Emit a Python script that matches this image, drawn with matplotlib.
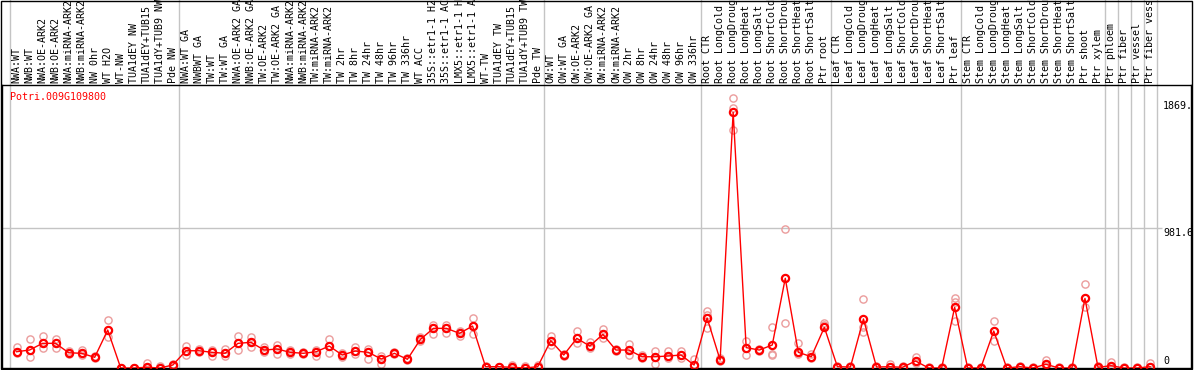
import numpy as np
from matplotlib import pyplot as plt
from matplotlib.patches import Rectangle

gene = "Potri.009G109800"

labels = ["NWA:WT", "NWB:WT", "NWA:OE-ARK2", "NWB:OE-ARK2", "NWA:miRNA-ARK2", "NWB:miRNA-ARK2",
	"NW 0hr", "WT H2O", "WT-NW", "TUA1dEY NW", "TUA1dEY+TUB15", "TUA1dY+TUB9 NW", "Pde NW",
	"NWA:WT GA", "NWBWT GA", "TW:WT", "TW:WT GA", "NWA:OE-ARK2 GA", "NWB:OE-ARK2 GA", "TW:OE-ARK2",
	"TW:OE-ARK2 GA", "NWA:miRNA-ARK2", "NWB:miRNA-ARK2", "TW:miRNA-ARK2", "TW:miRNA-ARK2",
	"TW 2hr", "TW 8hr", "TW 24hr", "TW 48hr", "TW 96hr", "TW 336hr", "WT ACC",
	"35S::etr1-1 H2", "35S::etr1-1 AC", "LMX5::etr1-1 H", "LMX5::etr1-1 A", "WT-TW",
	"TUA1dEY TW", "TUA1dEY+TUB15", "TUA1dY+TUB9 TW", "Pde TW",
	"OW:WT", "OW:WT GA", "OW:OE-ARK2", "OW:OE-ARK2 GA", "OW:miRNA-ARK2", "OW:miRNA-ARK2",
	"OW 2hr", "OW 8hr", "OW 24hr", "OW 48hr", "OW 96hr", "OW 336hr",
	"Root CTR", "Root LongCold", "Root LongDroug", "Root LongHeat", "Root LongSalt",
	"Root ShortCold", "Root ShortDrou", "Root ShortHeat", "Root ShortSalt", "Ptr root",
	"Leaf CTR", "Leaf LongCold", "Leaf LongDroug", "Leaf LongHeat", "Leaf LongSalt",
	"Leaf ShortCold", "Leaf ShortDrou", "Leaf ShortHeat", "Leaf ShortSalt", "Ptr leaf",
	"Stem CTR", "Stem LongCold", "Stem LongDroug", "Stem LongHeat", "Stem LongSalt",
	"Stem ShortCold", "Stem ShortDrou", "Stem ShortHeat", "Stem ShortSalt", "Ptr shoot", "Ptr xylem",
	"Ptr phloem", "Ptr fiber", "Ptr vessel", "Ptr fiber vess"]

# group boundaries (index of first sample of each new group)
group_starts = [0, 13, 41, 53, 63, 73, 84, 85, 86, 87, 88]

means = [114, 126, 173, 173, 107, 103, 75, 266, 0, 0, 5, 0, 21,
	121, 121, 110, 103, 173, 180, 126, 133, 110, 103, 114, 154, 91, 119, 110, 63, 103, 61,
	201, 278, 278, 243, 294, 9, 9, 5, 0, 9,
	192, 91, 208, 154, 236, 126, 126, 79, 79, 84, 91, 21,
	351, 56, 1793, 143, 126, 161, 629, 110, 79, 285,
	9, 7, 344, 7, 9, 5, 49, 0, 0, 425,
	0, 0, 259, 0, 9, 0, 26, 0, 0, 488, 5,
	16, 0, 0, 9]

rep_hi = [147, 203, 224, 203, 120, 126, 84, 337, 0, 0, 35, 14, 27,
	154, 133, 126, 133, 224, 217, 147, 161, 126, 112, 126, 201, 105, 149, 133, 84, 110, 68,
	215, 301, 301, 257, 353, 14, 9, 21, 14, 21,
	224, 98, 259, 180, 271, 133, 166, 91, 121, 121, 119, 61,
	402, 70, 1891, 189, 133, 285, 972, 173, 96, 318,
	14, 12, 484, 12, 26, 12, 79, 5, 5, 488,
	5, 5, 330, 5, 14, 5, 56, 5, 5, 587, 12,
	40, 5, 5, 37]

rep_mid = [114, 126, 173, 173, 107, 103, 75, 266, 0, 0, 5, 0, 21,
	121, 121, 110, 103, 173, 180, 126, 133, 110, 103, 114, 154, 91, 119, 110, 63, 103, 61,
	201, 278, 278, 243, 294, 9, 9, 5, 0, 9,
	192, 91, 208, 154, 236, 126, 126, 79, 79, 84, 91, 21,
	375, 56, 1821, 143, 126, 91, 629, 110, 79, 300,
	9, 7, 254, 7, 9, 5, 49, 0, 0, 465,
	0, 0, 259, 0, 9, 0, 26, 0, 0, 488, 5,
	16, 0, 0, 9]

rep_lo = [105, 77, 140, 140, 95, 92, 68, 215, 0, 0, 0, 0, 14,
	91, 110, 84, 84, 126, 147, 110, 98, 98, 96, 84, 107, 80, 98, 63, 28, 96, 56,
	190, 238, 243, 224, 238, 5, 5, 0, 0, 5,
	161, 84, 173, 140, 208, 119, 91, 70, 26, 70, 70, 14,
	278, 49, 1669, 91, 119, 98, 313, 98, 68, 285,
	5, 5, 290, 5, 5, 0, 35, 0, 0, 332,
	0, 0, 192, 0, 5, 0, 14, 0, 0, 430, 0,
	9, 0, 0, 5]

y_ticks = [1869, 981.6, 0]
y_tick_labels = ["1869.", "981.6", "0"]

W, H = 1194, 370
plt.rcParams['font.family'] = 'DejaVu Sans Mono'
fig = plt.figure(figsize=(W / 100, H / 100), dpi=100)
ax = fig.add_axes([2 / W, (H - 368) / H, (1191 - 2) / W, (368 - 85) / H])

slot = 13.03
ax.set_xlim((2 - 16.5) / slot, (1191 - 16.5) / slot)
ax.set_ylim(0, (368 - 85) / 0.14262)
ax.set_xticks([])
ax.set_yticks([])
for s in ax.spines.values():
	s.set_color('black')
	s.set_linewidth(1)

xs = np.arange(len(means))
grey = '#c4c4c4'

# group separators, running up through the label area
for b in group_starts:
	ax.axvline(b - 0.5, ymin=0, ymax=368 / 283, color=grey, lw=1, clip_on=False, zorder=1)
ax.hlines(981.6, ax.get_xlim()[0], 87.9, color=grey, lw=1, zorder=1)

pink = '#eb9c9c'
for reps in [rep_hi, rep_mid, rep_lo]:
	ax.plot(xs, reps, ls='none', marker='o', ms=5.2, mfc='none', mec=pink, mew=1, zorder=2)
ax.plot(xs, means, color='red', lw=1, marker='o', ms=5.2, mfc='none', mec='red', mew=1.6, zorder=3)

# sample labels above the plot
lab_y = 1 + 2 / 283
for i, lab in enumerate(labels):
	ax.text(i, lab_y, lab, rotation=90, ha='center', va='bottom', fontsize=7.2,
		transform=ax.get_xaxis_transform(), clip_on=False)

ax.text(8 / 1189, 1 - 7 / 283, gene, color='red', fontsize=7.2, ha='left', va='top',
	transform=ax.transAxes)

lab_x = (1163 - 16.5) / slot
for v, t in zip(y_ticks, y_tick_labels):
	if v == 0:
		ax.text(lab_x, 12, t, fontsize=7.2, ha='left', va='bottom')
	else:
		ax.text(lab_x, v, t, fontsize=7.2, ha='left', va='top')

fig.patches.append(Rectangle((1 / W, 1 / H), 1191 / W, 368 / H, transform=fig.transFigure,
	fill=False, edgecolor='black', lw=1))

fig.savefig("out.png", dpi=100)
